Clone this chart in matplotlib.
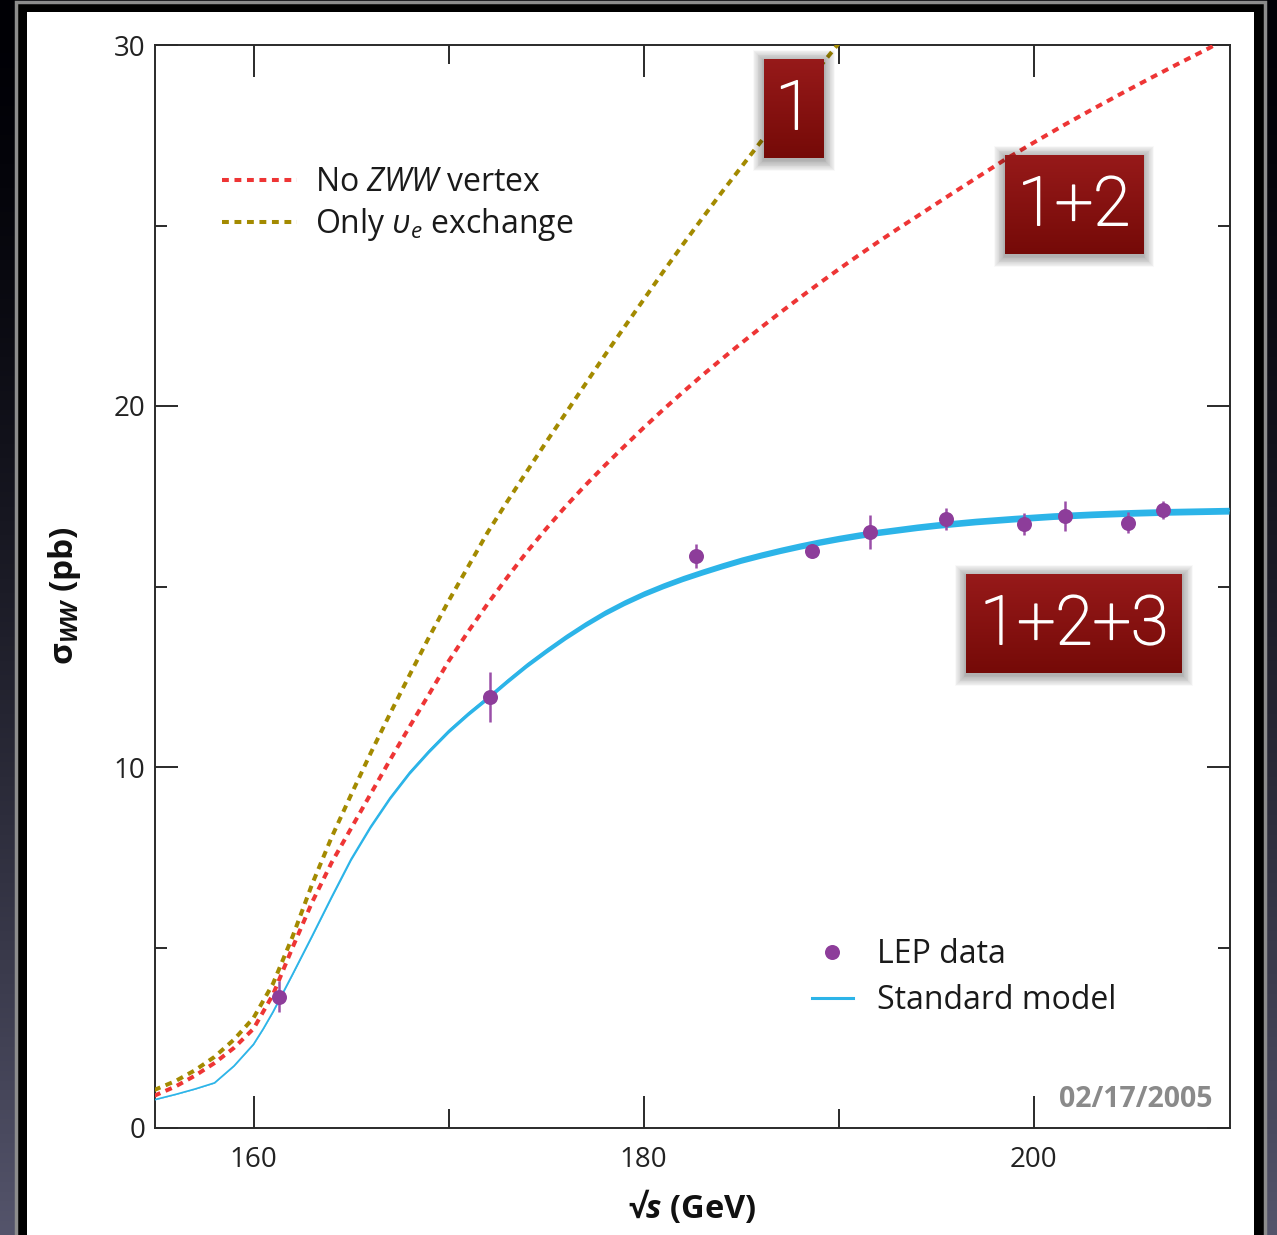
import numpy as np
import matplotlib
matplotlib.use("Agg")
import matplotlib.pyplot as plt
import matplotlib.patheffects as pe
from matplotlib.patches import Rectangle

# ---- data ----
sm_x = [154.9, 156, 157, 158, 159, 160, 160.5, 161, 162, 163, 164, 165, 166,
        167, 168, 169, 170, 171, 172, 173, 174, 175, 176, 177, 178, 179, 180,
        181, 182, 183, 184, 185, 186, 187, 188, 189, 190, 191, 192, 193, 194,
        195, 197, 199, 201, 203, 205, 207, 210]
sm_y = [0.78, 0.93, 1.08, 1.25, 1.72, 2.32, 2.75, 3.22, 4.26, 5.32, 6.4, 7.45,
        8.35, 9.15, 9.85, 10.45, 11.0, 11.48, 11.92, 12.38, 12.82, 13.22, 13.6,
        13.95, 14.27, 14.55, 14.8, 15.02, 15.22, 15.4, 15.57, 15.73, 15.87,
        16.0, 16.12, 16.23, 16.33, 16.42, 16.5, 16.57, 16.64, 16.7, 16.8,
        16.88, 16.95, 17.0, 17.04, 17.07, 17.1]

nozww_x = [154.9, 156, 157, 158, 159, 160, 161, 162, 163, 164, 165, 166, 167,
           168, 169, 170, 171, 172, 173, 174, 175, 176, 177, 178, 179, 180, 181,
           182, 183, 184, 185, 186, 187, 188, 189, 190, 191, 192, 193, 194,
           195.5, 197, 198.5, 200, 201.5, 203, 204.5, 206, 207.5, 209, 209.6]
nozww_y = [0.89, 1.15, 1.45, 1.8, 2.22, 2.75, 3.7, 5.0, 6.25, 7.35, 8.3, 9.25,
           10.2, 11.12, 12.02, 12.93, 13.75, 14.52, 15.25, 15.95, 16.6, 17.22,
           17.8, 18.35, 18.88, 19.4, 19.9, 20.38, 20.85, 21.3, 21.74, 22.17,
           22.59, 23.0, 23.4, 23.79, 24.17, 24.54, 24.9, 25.25, 25.78, 26.3,
           26.82, 27.3, 27.77, 28.22, 28.66, 29.09, 29.51, 29.92, 30.1]

nue_x = [154.9, 156, 157, 158, 159, 160, 161, 162, 163, 164, 165, 166, 167, 168,
         169, 170, 171, 172, 173, 174, 175, 176, 177, 178, 179, 180, 181, 182,
         183, 184, 185, 186, 187, 188, 189, 190, 190.5]
nue_y = [1.05, 1.3, 1.6, 1.97, 2.45, 3.05, 4.0, 5.3, 6.75, 8.05, 9.23, 10.38,
         11.48, 12.55, 13.6, 14.6, 15.55, 16.5, 17.35, 18.18, 19.0, 19.8, 20.6,
         21.4, 22.18, 22.95, 23.72, 24.47, 25.2, 25.92, 26.62, 27.32, 28.0,
         28.7, 29.38, 30.05, 30.4]

lep_x = [161.3, 172.1, 182.7, 188.6, 191.6, 195.5, 199.5, 201.6, 204.8, 206.6]
lep_y = [3.63, 11.94, 15.85, 15.98, 16.52, 16.87, 16.73, 16.95, 16.76, 17.12]
lep_err = [0.43, 0.69, 0.33, 0.15, 0.47, 0.3, 0.3, 0.41, 0.29, 0.25]

W, H = 1277, 1235
plt.rcParams['font.family'] = ['Open Sans', 'DejaVu Sans']
plt.rcParams['mathtext.fontset'] = 'custom'
plt.rcParams['mathtext.rm'] = 'Open Sans'
plt.rcParams['mathtext.it'] = 'Open Sans:italic'
plt.rcParams['mathtext.bf'] = 'Open Sans:bold'
plt.rcParams['mathtext.bfit'] = 'Open Sans:italic:bold'

fig = plt.figure(figsize=(W / 100, H / 100), dpi=100)

# dark slide background + white panel
bg = fig.add_axes([0, 0, 1, 1], zorder=-10)
t = np.linspace(0, 1, 256) ** 1.5
top = np.array([0.0, 0.0, 0.02])
bot = np.array([0.33, 0.33, 0.42])
grad = top[None, :] * (1 - t[:, None]) + bot[None, :] * t[:, None]
bg.imshow(grad[:, None, :], extent=[0, 1, 0, 1], aspect='auto', origin='upper')
bg.add_patch(Rectangle((16 / W, -0.01), (1265 - 16) / W, 1 - 2 / H + 0.01,
                       facecolor='black', edgecolor='#8c8c8c', linewidth=2.5))
bg.add_patch(Rectangle((27 / W, -0.01), (1254 - 27) / W, 1 - 12 / H + 0.01,
                       facecolor='white', edgecolor='none'))
bg.set_xlim(0, 1)
bg.set_ylim(0, 1)
bg.axis('off')

# main plot
ax = fig.add_axes([155 / W, 1 - 1128 / H, (1230 - 155) / W, (1128 - 45) / H])
ax.set_facecolor('none')

red = '#ee3535'
gold = '#a38a00'
blue = '#2cb4e8'
purple = '#8d3d9a'

ax.plot(nue_x, nue_y, color=gold, lw=2.9, dashes=(1.7, 1.4),
        dash_capstyle='butt', label=r'Only $\upsilon_e$ exchange', zorder=3)
ax.plot(nozww_x, nozww_y, color=red, lw=2.9, dashes=(1.7, 1.4),
        dash_capstyle='butt', label=r'No $ZWW$ vertex', zorder=3)

sm = np.array(sm_y)
ax.fill_between(sm_x, sm * 0.9945, sm * 1.0055, color=blue, lw=0, zorder=4)
sm_line, = ax.plot(sm_x, sm_y, color=blue, lw=1.2, zorder=4,
                   label='Standard model')

ax.errorbar(lep_x, lep_y, yerr=lep_err, fmt='none', ecolor='#9a4fa8',
            elinewidth=1.8, capsize=0, zorder=5)
lep_pts, = ax.plot(lep_x, lep_y, 'o', color=purple, ms=10.8, mec='none',
                   zorder=6, label='LEP data')

ax.set_xlim(154.95, 210.05)
ax.set_ylim(0, 30)
ax.set_xticks([160, 180, 200])
ax.set_xticks([170, 190], minor=True)
ax.set_yticks([0, 10, 20, 30])
ax.set_yticks([5, 15, 25], minor=True)
ax.tick_params(which='both', direction='in', top=True, right=True,
               color='#2a2a2a', width=1.4, labelcolor='#222222')
ax.tick_params(axis='x', which='major', length=23, pad=13, labelsize=20)
ax.tick_params(axis='x', which='minor', length=14)
ax.tick_params(axis='y', which='major', length=16.5, pad=7, labelsize=20)
ax.tick_params(axis='y', which='minor', length=8.6)
for s in ax.spines.values():
    s.set_color('#2a2a2a')
    s.set_linewidth(1.4)

ax.set_xlabel(r'√$\mathbfit{s}$ (GeV)', fontsize=23.5, fontweight='bold',
              color='#111111')
ax.xaxis.set_label_coords(0.5, -0.055)
ax.set_ylabel(r'σ$_{\mathbfit{WW}}$ (pb)', fontsize=24, fontweight='bold',
              color='#111111')
ax.yaxis.set_label_coords(-0.067, 0.492)

h = ax.get_legend_handles_labels()[0]
leg1 = ax.legend(handles=[h[1], h[0]], loc='center left',
                 bbox_to_anchor=(0.0623, 0.8527), frameon=False, fontsize=23,
                 handlelength=2.34, handletextpad=0.56, labelspacing=0.23,
                 borderpad=0, borderaxespad=0)
ax.add_artist(leg1)
leg2 = ax.legend(handles=[lep_pts, sm_line], loc='center left',
                 bbox_to_anchor=(0.6112, 0.1390), frameon=False, fontsize=23,
                 handlelength=1.28, handletextpad=0.75, labelspacing=0.41,
                 borderpad=0, borderaxespad=0, numpoints=1)
leg2.get_lines()[1].set_linewidth(2.2)
for txt in leg1.get_texts() + leg2.get_texts():
    txt.set_color('#1a1a1a')

ax.text(0.9833, 0.0259, '02/17/2005', transform=ax.transAxes, ha='right',
        va='center', fontsize=20.5, fontweight='bold', color='#8a8a8a')


# red labelled boxes laid over the chart
def label_box(x0, y0, x1, y1, label):
    fx, fy = x0 / W, 1 - y1 / H
    fw, fh = (x1 - x0) / W, (y1 - y0) / H
    for k in range(1, 15):
        d = k * 0.8
        fig.add_artist(Rectangle(((x0 - d) / W, 1 - (y1 + d + 2) / H),
                                 (x1 - x0 + 2 * d) / W, (y1 - y0 + 2 * d) / H,
                                 transform=fig.transFigure, facecolor='black',
                                 edgecolor='none', alpha=0.022, zorder=8))
    bax = fig.add_axes([fx, fy, fw, fh], zorder=10)
    g = np.linspace(0, 1, 64)[:, None]
    c0 = np.array([0.59, 0.10, 0.10])
    c1 = np.array([0.46, 0.04, 0.03])
    img = c0[None, None, :] * (1 - g[:, :, None]) + c1[None, None, :] * g[:, :, None]
    bax.imshow(img, extent=[0, 1, 0, 1], aspect='auto', origin='upper')
    bax.set_xlim(0, 1)
    bax.set_ylim(0, 1)
    bax.axis('off')
    bax.text(0.5, 0.48, label, ha='center', va='center', color='white',
             fontsize=49, fontfamily=['Roboto', 'DejaVu Sans'],
             fontweight='light',
             path_effects=[pe.withStroke(linewidth=1.1, foreground='white')])


label_box(764, 59, 824, 158, '1')
label_box(1005, 155, 1143, 254, '1+2')
label_box(966, 574, 1182, 673, '1+2+3')

fig.savefig('out.png', dpi=100)
